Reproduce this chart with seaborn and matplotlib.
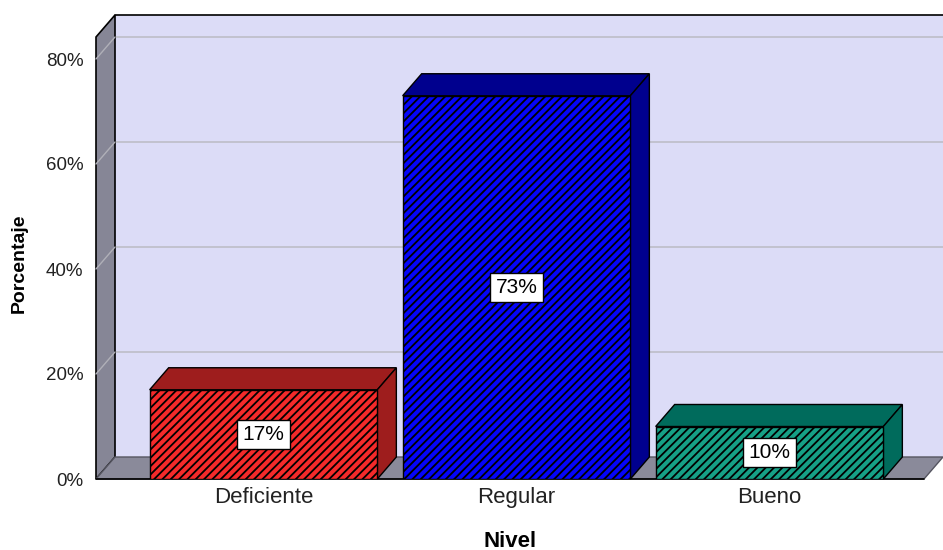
import matplotlib
matplotlib.use("Agg")
import matplotlib.pyplot as plt
import seaborn as sns
import pandas as pd
from matplotlib.patches import Polygon

# ---- data ----
categories = ["Deficiente", "Regular", "Bueno"]
values = [17, 73, 10]
labels = ["17%", "73%", "10%"]
y_ticks = [0, 20, 40, 60, 80]
y_tick_labels = ["0%", "20%", "40%", "60%", "80%"]

front_colors = ["#f42a2a", "#0505fa", "#16a086"]
side_colors = ["#9e1d1d", "#00008e", "#006b5c"]

sns.set_theme(style="white")
plt.rcParams["font.family"] = ["Liberation Sans", "DejaVu Sans"]
plt.rcParams["hatch.linewidth"] = 1.3
plt.rcParams["hatch.color"] = "black"

df = pd.DataFrame({"Nivel": categories, "Porcentaje": values})

fig = plt.figure(figsize=(9.43, 5.5), dpi=100)
W, H = 943, 550
px0, px1, py0, pytop = 96, 924, 479, 37
ax = fig.add_axes([px0 / W, (H - py0) / H, (px1 - px0) / W, (py0 - pytop) / H])

sns.barplot(data=df, x="Nivel", y="Porcentaje", order=categories,
            hue="Nivel", palette=front_colors, legend=False,
            width=0.9, ax=ax, saturation=1, zorder=5)
bar_patches = list(ax.patches)

xmin, xmax = -(263.5 - px0) / 253.0, (px1 - 263.5) / 253.0
ymax = (py0 - pytop) / 5.25
ax.set_xlim(xmin, xmax)
ax.set_ylim(0, ymax)
ddx = 19 / 253.0
ddy = 22 / 5.25

# walls
back = Polygon([(xmin + ddx, ddy), (xmax + ddx, ddy), (xmax + ddx, ymax + ddy), (xmin + ddx, ymax + ddy)],
               closed=True, facecolor="#dcdcf7", edgecolor="none", zorder=0, clip_on=False)
ax.add_patch(back)
ax.plot([xmin + ddx, xmax + ddx], [ymax + ddy, ymax + ddy], color="black", lw=1.2, zorder=0.6, clip_on=False)
for v in y_ticks[1:]:
    ax.plot([xmin + ddx, xmax + ddx], [v + ddy, v + ddy], color="#bdbdc8", lw=1.2, zorder=0.5, clip_on=False)
left = Polygon([(xmin, 0), (xmin + ddx, ddy), (xmin + ddx, ymax + ddy), (xmin, ymax)],
               closed=True, facecolor="#868696", edgecolor="black", lw=1.2, zorder=1, clip_on=False)
ax.add_patch(left)
for v in y_ticks[1:]:
    ax.plot([xmin, xmin + ddx], [v, v + ddy], color="#b0b0b8", lw=1.0, zorder=1.2, clip_on=False)
floor = Polygon([(xmin, 0), (xmax, 0), (xmax + ddx, ddy), (xmin + ddx, ddy)],
                closed=True, facecolor="#8a8a9a", edgecolor="#555560", lw=1.0, zorder=1.5, clip_on=False)
ax.add_patch(floor)
ax.plot([xmin, xmax], [0, 0], color="black", lw=1.2, zorder=1.6, clip_on=False)

# bars: hatch front faces, add top and side faces
for i, p in enumerate(bar_patches):
    x, w, h = p.get_x(), p.get_width(), p.get_height()
    p.set_hatch("////")
    p.set_edgecolor("black")
    p.set_linewidth(1.0)
    top = Polygon([(x, h), (x + w, h), (x + w + ddx, h + ddy), (x + ddx, h + ddy)], closed=True,
                  facecolor=side_colors[i], edgecolor="black", lw=1.0, zorder=4, clip_on=False)
    side = Polygon([(x + w, 0), (x + w + ddx, ddy), (x + w + ddx, h + ddy), (x + w, h)], closed=True,
                   facecolor=side_colors[i], edgecolor="black", lw=1.0, zorder=4, clip_on=False)
    ax.add_patch(top)
    ax.add_patch(side)
    ax.text(x + w / 2, h / 2, labels[i], ha="center", va="center", fontsize=15, color="black", zorder=7,
            bbox=dict(boxstyle="square,pad=0.25", facecolor="white", edgecolor="black", lw=1.0))

for s in ax.spines.values():
    s.set_visible(False)
ax.set_yticks(y_ticks)
ax.set_yticklabels(y_tick_labels, fontsize=13.5, color="#222222")
ax.tick_params(axis="both", length=0)
ax.tick_params(axis="y", pad=9)
ax.tick_params(axis="x", labelsize=16, colors="#222222", pad=6)
ax.set_xlabel("Nivel", fontsize=16, fontweight="bold", labelpad=16, color="black")
ax.set_ylabel("Porcentaje", fontsize=14, fontweight="bold", color="black", va="center")
ax.yaxis.set_label_coords((19 - px0) / (px1 - px0), 0.5 - (263 - (py0 + pytop) / 2) / (py0 - pytop))
ax.grid(False)

fig.savefig("out.png", dpi=100, facecolor="white")
